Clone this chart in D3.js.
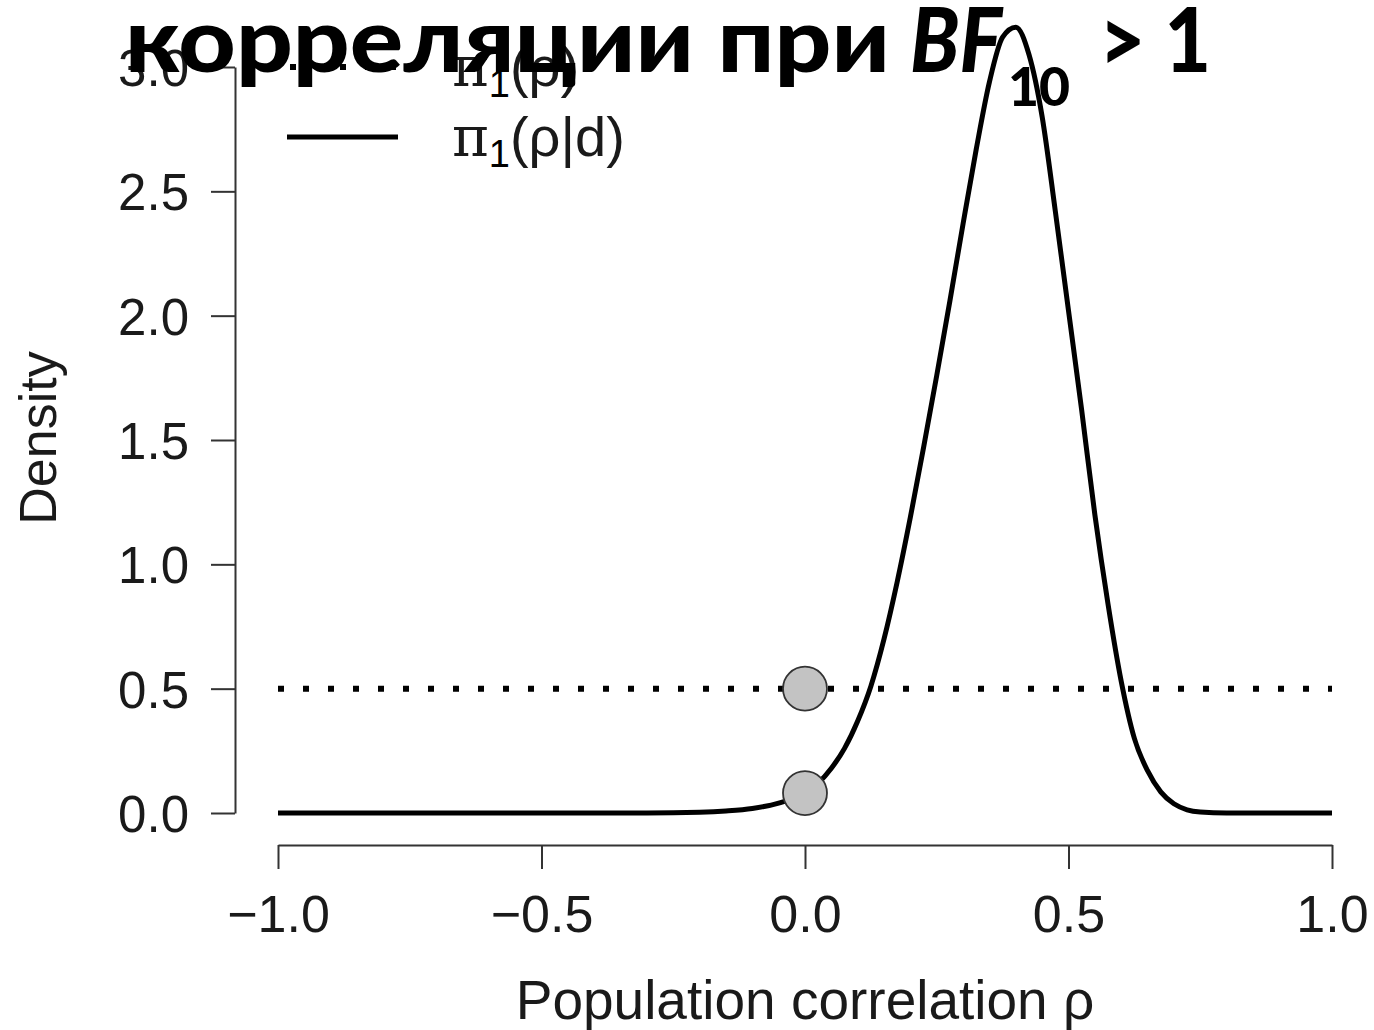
<!DOCTYPE html>
<html>
<head>
<meta charset="utf-8">
<script src="https://cdn.jsdelivr.net/npm/d3@7"></script>
<style>
  body { margin: 0; background: #fff; }
  text { font-family: "Liberation Sans", Arial, sans-serif; fill: #1a1a1a; }
</style>
</head>
<body>
<script>
// posterior density (rho, density)
var rhoValues = [-1.0, -0.5, -0.3, -0.2, -0.15, -0.1, -0.05, 0.0, 0.025, 0.05, 0.075, 0.1, 0.125, 0.15, 0.175, 0.2, 0.225, 0.25, 0.275, 0.3, 0.325, 0.35, 0.375, 0.4, 0.425, 0.45, 0.475, 0.5, 0.525, 0.55, 0.575, 0.6, 0.625, 0.65, 0.675, 0.7, 0.725, 0.75, 0.8, 1.0];
var posteriorValues = [0, 0, 0, 0.003, 0.008, 0.018, 0.04, 0.08, 0.12, 0.18, 0.26, 0.37, 0.51, 0.70, 0.93, 1.19, 1.47, 1.76, 2.06, 2.37, 2.67, 2.94, 3.12, 3.16, 3.05, 2.80, 2.42, 2.02, 1.62, 1.20, 0.84, 0.53, 0.30, 0.17, 0.085, 0.037, 0.013, 0.004, 0, 0];
// uniform prior
var priorRho = [-1, 1];
var priorValues = [0.5, 0.5];
// densities at rho = 0
var pointRho = [0, 0];
var pointValues = [0.5, 0.08];

var xTicks = [-1, -0.5, 0, 0.5, 1];
var yTicks = [0, 0.5, 1, 1.5, 2, 2.5, 3];

var width = 1374, height = 1030;

var svg = d3.select('body')
    .append('svg')
    .attr('width', width)
    .attr('height', height);

svg.append('rect').attr('width', width).attr('height', height).attr('fill', '#fff');

var x = d3.scaleLinear().domain([-1, 1]).range([278, 1332]);
var y = d3.scaleLinear().domain([0, 3]).range([813, 67]);

var fmt = d3.format('.1f');

// axes
var yAxis = svg.append('g')
    .attr('transform', 'translate(235,0)')
    .call(d3.axisLeft(y).tickValues(yTicks).tickFormat(fmt).tickSize(24).tickSizeOuter(0).tickPadding(22));

var xAxis = svg.append('g')
    .attr('transform', 'translate(0,845)')
    .call(d3.axisBottom(x).tickValues(xTicks).tickFormat(fmt).tickSize(24).tickSizeOuter(0).tickPadding(26));

[yAxis, xAxis].forEach(function(a) {
    a.selectAll('path, line').attr('stroke', '#333').attr('stroke-width', 2);
    a.selectAll('text')
        .style('font-family', '"Liberation Sans", Arial, sans-serif')
        .style('font-size', '51px')
        .attr('fill', '#1a1a1a');
});
yAxis.selectAll('text').attr('dy', '0.36em');
xAxis.selectAll('text').style('font-size', '52px');

svg.append('text')
    .attr('transform', 'translate(56,438) rotate(-90)')
    .attr('text-anchor', 'middle')
    .style('font-size', '52px')
    .text('Density');

svg.append('text')
    .attr('x', 805)
    .attr('y', 1019)
    .attr('text-anchor', 'middle')
    .style('font-size', '55px')
    .text('Population correlation ρ');

// prior (dotted)
var priorData = priorRho.map(function(r, i) { return [r, priorValues[i]]; });
svg.append('path')
    .datum(priorData)
    .attr('d', d3.line().x(function(d) { return x(d[0]); }).y(function(d) { return y(d[1]); }))
    .attr('fill', 'none')
    .attr('stroke', '#000')
    .attr('stroke-width', 6)
    .attr('stroke-dasharray', '6,19');

// posterior (solid)
var postData = rhoValues.map(function(r, i) { return [r, posteriorValues[i]]; });
svg.append('path')
    .datum(postData)
    .attr('d', d3.line().curve(d3.curveMonotoneX).x(function(d) { return x(d[0]); }).y(function(d) { return y(d[1]); }))
    .attr('fill', 'none')
    .attr('stroke', '#000')
    .attr('stroke-width', 5)
    .attr('stroke-linejoin', 'round');

svg.selectAll('circle.pt')
    .data(pointValues)
    .enter()
    .append('circle')
    .attr('class', 'pt')
    .attr('cx', function(d, i) { return x(pointRho[i]); })
    .attr('cy', function(d) { return y(d); })
    .attr('r', 22)
    .attr('fill', '#c3c3c3')
    .attr('stroke', '#333')
    .attr('stroke-width', 1.8);

// legend
var legend = svg.append('g');
legend.append('line')
    .attr('x1', 290).attr('x2', 400).attr('y1', 67).attr('y2', 67)
    .attr('stroke', '#000').attr('stroke-width', 6).attr('stroke-dasharray', '6,19');
legend.append('line')
    .attr('x1', 287).attr('x2', 398).attr('y1', 137).attr('y2', 137)
    .attr('stroke', '#000').attr('stroke-width', 5);

function legendText(yPos, rest) {
    var t = legend.append('text').attr('x', 452).attr('y', yPos).style('font-size', '56px').style('fill', '#1a1a1a');
    t.append('tspan').style('font-family', '"DejaVu Serif", serif').text('π');
    t.append('tspan').attr('dy', 11).style('font-size', '38px').style('fill', '#000').text('1');
    t.append('tspan').attr('dy', -11).text(rest);
}
legendText(86, '(ρ)');
legendText(156, '(ρ|d)');

// slide title on top, stretched to the spans seen in the picture
function titlePart(str, xPos, yPos, size, len, italic) {
    svg.append('text')
        .attr('x', xPos)
        .attr('y', yPos)
        .attr('textLength', len)
        .attr('lengthAdjust', 'spacingAndGlyphs')
        .style('font-family', 'Lato, "Open Sans", sans-serif')
        .style('font-weight', 900)
        .style('font-style', italic ? 'italic' : 'normal')
        .style('font-size', size + 'px')
        .style('fill', '#000')
        .text(str);
}
titlePart('корреляции при', 125, 72, 90, 765, false);
titlePart('BF', 910, 72, 90, 92, true);
titlePart('10', 1008, 106, 54, 62, false);
titlePart('> 1', 1099, 72, 90, 112, false);
</script>
</body>
</html>
